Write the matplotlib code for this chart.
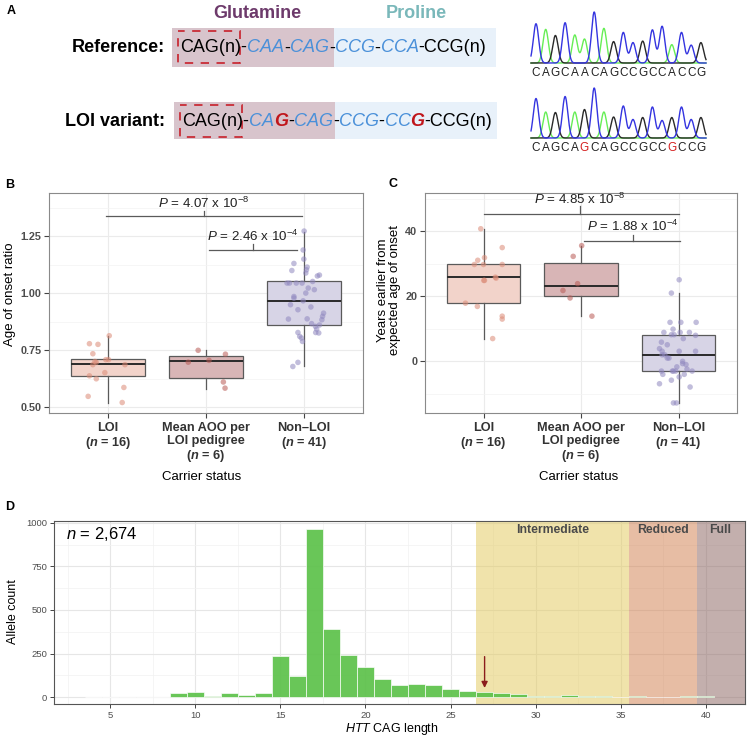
import numpy as np
import matplotlib
matplotlib.use("Agg")
import matplotlib.pyplot as plt
from matplotlib.patches import Rectangle

plt.rcParams['font.family'] = ['Liberation Sans', 'DejaVu Sans']
plt.rcParams['mathtext.fontset'] = 'custom'
plt.rcParams['mathtext.rm'] = 'Liberation Sans'
plt.rcParams['mathtext.it'] = 'Liberation Sans:italic'
plt.rcParams['mathtext.bf'] = 'Liberation Sans:bold'
plt.rcParams['mathtext.bfit'] = 'Liberation Sans:bold:italic'

# ---------------- data ----------------
# Panel A
ref_seq = "CAGCAACAGCCGCCACCG"
loi_seq = "CAGCAGCAGCCGCCGCCG"
ref_peaks = [0.77, 0.66, 0.54, 0.79, 0.55, 0.47, 1.0, 0.68, 0.42, 0.60, 0.40, 0.43,
             0.65, 0.72, 0.36, 0.60, 0.35, 0.40]
loi_peaks = [0.79, 0.52, 0.51, 0.83, 0.52, 0.57, 1.0, 0.52, 0.42, 0.64, 0.37, 0.41,
             0.62, 0.35, 0.41, 0.62, 0.37, 0.41]
loi_red_positions = [5, 14]
ref_segments = [("CAG(n)-", "k"), ("CAA", "b"), ("-", "k"), ("CAG", "b"), ("-", "k"),
                ("CCG", "b"), ("-", "k"), ("CCA", "b"), ("-CCG(n)", "k")]
loi_segments = [("CAG(n)-", "k"), ("CA", "b"), ("G", "r"), ("-", "k"), ("CAG", "b"),
                ("-", "k"), ("CCG", "b"), ("-", "k"), ("CC", "b"), ("G", "r"),
                ("-CCG(n)", "k")]

# Panels B / C
categories = ["LOI\n($\\mathbfit{n}$ = 16)",
              "Mean AOO per\nLOI pedigree\n($\\mathbfit{n}$ = 6)",
              "Non\u2013LOI\n($\\mathbfit{n}$ = 41)"]
# box stats: whislo, q1, median, q3, whishi
b_box = [[0.52, 0.635, 0.69, 0.712, 0.81],
         [0.58, 0.628, 0.70, 0.722, 0.749],
         [0.68, 0.86, 0.965, 1.053, 1.27]]
c_box = [[6.9, 17.8, 25.8, 30.0, 40.7],
         [13.8, 20.0, 23.0, 30.2, 35.5],
         [-12.9, -3.0, 2.0, 8.0, 20.9]]

b_loi_jit = [0.014, -0.188, -0.101, -0.153, -0.132, -0.118, -0.153, -0.021, 0.007, 0.174,
             -0.031, -0.188, -0.118, 0.163, -0.201, 0.146]
b_loi_y = [0.813, 0.778, 0.775, 0.734, 0.700, 0.696, 0.686, 0.708, 0.708, 0.686,
           0.651, 0.637, 0.624, 0.586, 0.547, 0.520]
b_mean_jit = [-0.181, 0.031, -0.080, 0.198, 0.177, 0.194]
b_mean_y = [0.697, 0.705, 0.749, 0.732, 0.610, 0.583]
b_non_jit = [0, -0.010, -0.104, -0.125, 0.031, 0.024, 0.017, 0.156, 0.135, -0.174, -0.149,
             -0.080, -0.021, 0.087, 0.042, 0.104, 0.017, -0.104, -0.104, -0.010, -0.139,
             0.069, -0.063, 0.198, 0.188, 0.031, -0.160, 0.181, 0.076, 0.156, 0.115, 0.128,
             0.149, 0.118, -0.063, -0.045, -0.017, -0.028, -0.063, -0.115, -0.003]
b_non_y = [1.272, 1.189, 1.130, 1.099, 1.114, 1.102, 1.088, 1.079, 1.075, 1.044, 1.044,
           1.044, 1.044, 1.051, 1.022, 1.015, 1.000, 0.985, 0.978, 0.966, 0.949, 0.939,
           0.927, 0.912, 0.898, 0.887, 0.886, 0.883, 0.866, 0.860, 0.854, 0.842, 0.825,
           0.827, 0.827, 0.810, 0.788, 0.803, 0.696, 0.678, 1.149]

c_loi_jit = [-0.028, 0.010, -0.059, -0.094, 0, 0.192, 0.192, 0.010, 0.122, 0.129, -0.185,
             -0.063, 0.192, 0.192, 0.094, 0.003]
c_loi_y = [40.7, 31.8, 31.0, 29.7, 29.7, 34.9, 29.7, 24.8, 25.8, 25.5, 17.8, 16.8, 13.8,
           12.9, 6.9, 24.8]
c_mean_jit = [0.007, -0.080, -0.035, -0.185, -0.112, 0.112]
c_mean_y = [35.5, 32.2, 23.8, 21.7, 19.4, 13.8]
c_non_jit = [0.007, -0.073, -0.087, 0.024, 0.181, -0.056, -0.150, -0.073, 0.017, 0.112,
             0.175, 0.049, -0.175, -0.115, -0.195, -0.168, 0.007, 0.175, -0.168, -0.115,
             -0.098, 0.042, 0.042, 0.077, -0.017, -0.175, -0.063, -0.028, 0.140, 0.059,
             0.007, -0.161, -0.073, -0.195, 0.119, -0.052, -0.021, -0.052, 0.087, -0.140,
             -0.045]
c_non_y = [25.0, 20.9, 11.9, 11.9, 11.9, 9.8, 8.8, 8.1, 8.8, 8.8, 7.9, 6.9, 5.8, 5.0, 3.8,
           3.0, 3.0, 3.0, 1.9, 0.9, 0.9, -0.1, -0.8, -1.1, -1.8, -3.1, -3.1, -3.1, -3.1,
           -4.1, -4.9, -4.1, -5.9, -7.0, -8.0, -12.9, -12.9, -3.1, -2.5, 1.9, 8.1]

b_pvals = [r"$\it{P}$ = 4.07 x $10^{-8}$", r"$\it{P}$ = 2.46 x $10^{-4}$"]
c_pvals = [r"$\it{P}$ = 4.85 x $10^{-8}$", r"$\it{P}$ = 1.88 x $10^{-4}$"]

# Panel D
cag_length = list(range(4, 41))
allele_count = [2, 2, 0, 2, 0, 23, 31, 6, 23, 11, 25, 238, 119, 967, 393, 241, 170, 103,
                71, 75, 71, 44, 33, 29, 25, 15, 4, 8, 10, 4, 4, 0, 4, 0, 0, 4, 4]
region_names = ["Intermediate", "Reduced", "Full"]
region_start = [26.5, 35.5, 39.5]
region_end = [35.5, 39.5, 42.3]
region_label_x = [31.0, 37.5, 40.85]
region_colors = ["#e3c959", "#d17d4b", "#89615d"]
arrow_x = 27

# ---------------- figure ----------------
W, H = 748, 739
fig = plt.figure(figsize=(W / 100, H / 100), dpi=100)
ax0 = fig.add_axes([0, 0, 1, 1])
ax0.set_xlim(0, W)
ax0.set_ylim(H, 0)
ax0.axis('off')

def fax(l, t, r, b):
    return fig.add_axes([l / W, 1 - b / H, (r - l) / W, (b - t) / H])

# ---- panel letters ----
for lab, x, y in [("A", 11, 11), ("B", 10, 185), ("C", 393, 184), ("D", 10, 507)]:
    ax0.text(x, y, lab, fontsize=9, fontweight='bold', ha='center', va='center')

# ---- Panel A ----
ax0.text(257, 14, "Glutamine", fontsize=13, fontweight='bold', color="#6d3a6b",
         ha='center', va='center')
ax0.text(416, 14, "Proline", fontsize=13, fontweight='bold', color="#7ab8ba",
         ha='center', va='center')
seg_col = {"k": "black", "b": "#4a90d9", "r": "#c0151b"}

def draw_row(ycen, label, segs, box_y0, box_y1, x_purple0, x_mid, x_blue1, brk):
    ax0.add_patch(Rectangle((x_purple0, box_y0), x_mid - x_purple0, box_y1 - box_y0,
                            facecolor="#d8c4cc", edgecolor='none'))
    ax0.add_patch(Rectangle((x_mid, box_y0), x_blue1 - x_mid, box_y1 - box_y0,
                            facecolor="#e8f1fa", edgecolor='none'))
    ax0.add_patch(Rectangle((brk[0], brk[1]), brk[2] - brk[0], brk[3] - brk[1],
                            facecolor='none', edgecolor="#c8202a", lw=1.2,
                            linestyle=(1, (5, 4.5))))
    ax0.text(165, ycen, label, fontsize=13, fontweight='bold', ha='right', va='center')
    prev = None
    for s, c in segs:
        style = 'normal' if c == 'k' else 'italic'
        weight = 'bold' if c == 'r' else 'normal'
        if prev is None:
            prev = ax0.text(x_purple0 + 8, ycen, s, fontsize=13, color=seg_col[c],
                            style=style, fontweight=weight, ha='left', va='center')
        else:
            prev = ax0.annotate(s, xy=(1, 0), xycoords=prev, fontsize=13, color=seg_col[c],
                                style=style, fontweight=weight, ha='left', va='bottom')

draw_row(48, "Reference:", ref_segments, 28, 67, 172, 334, 496, (178, 31, 240, 63))
draw_row(121, "LOI variant:", loi_segments, 102, 139, 174, 335, 497, (180, 105, 242, 137))

chan_color = {"C": "#3434e0", "A": "#66ee55", "G": "#2a2a2a"}

def chromatogram(seq, peaks, base_y, amp, text_y, red_pos):
    xs = 536 + 9.7 * np.arange(len(seq))
    xx = np.linspace(531, 706, 600)
    for ch in ["A", "G", "C"]:
        yy = np.zeros_like(xx)
        for xi, b, h in zip(xs, seq, peaks):
            if b == ch:
                yy += h * np.exp(-0.5 * ((xx - xi) / 2.7) ** 2)
        ax0.plot(xx, base_y - amp * yy, color=chan_color[ch], lw=1.0)
    for i, (xi, b) in enumerate(zip(xs, seq)):
        ax0.text(xi, text_y, b, fontsize=8.5, ha='center', va='center',
                 color="#d42020" if i in red_pos else "#222222")

chromatogram(ref_seq, ref_peaks, 63, 51, 73, [])
chromatogram(loi_seq, loi_peaks, 138, 50, 148, loi_red_positions)

# ---- Panels B and C ----
box_fill = ["#f2d3ca", "#d8b5b6", "#d7d4e6"]
pt_col = ["#db8a76", "#b85a55", "#8f87bf"]

def style_box_axes(ax, ylim, yticks, yminor, ytlabels):
    ax.set_xlim(0.4, 3.6)
    ax.set_ylim(*ylim)
    ax.set_yticks(yticks)
    ax.set_yticklabels(ytlabels)
    ax.set_yticks(yminor, minor=True)
    ax.set_xticks([1, 2, 3])
    ax.set_xticklabels(categories, fontsize=9.2, fontweight='bold', color="#333333",
                       linespacing=1.1)
    ax.tick_params(axis='y', labelsize=7.8, labelcolor="#4d4d4d", length=3.5,
                   color="#444444", width=0.8, pad=2)
    for t in ax.get_yticklabels():
        t.set_fontweight('bold')
    ax.tick_params(axis='x', length=3.5, color="#444444", width=0.8, pad=3)
    ax.tick_params(which='minor', length=0)
    ax.grid(True, which='major', color="#ebebeb", lw=0.8, zorder=0)
    ax.grid(True, which='minor', axis='y', color="#f3f3f3", lw=0.5, zorder=0)
    ax.set_axisbelow(True)
    for sp in ax.spines.values():
        sp.set_color("#8a8a8a")
        sp.set_linewidth(0.8)

def draw_boxes(ax, stats, jits, ys):
    for i, st in enumerate(stats):
        d = dict(whislo=st[0], q1=st[1], med=st[2], q3=st[3], whishi=st[4], fliers=[])
        ax.bxp([d], positions=[i + 1], widths=0.75, patch_artist=True, showcaps=False,
               manage_ticks=False,
               boxprops=dict(facecolor=box_fill[i], edgecolor="#5a5a5a", lw=0.9),
               whiskerprops=dict(color="#5a5a5a", lw=0.9),
               medianprops=dict(color="#2a2a2a", lw=1.4), zorder=2)
        ax.scatter(np.array(jits[i]) + i + 1, ys[i], s=16, color=pt_col[i], alpha=0.55,
                   edgecolors='none', zorder=3)

def bracket(ax, x0, x1, y, xt, ytop, txt, ty):
    ax.plot([x0, x1], [y, y], color="#5a5a5a", lw=0.9, zorder=4)
    ax.plot([xt, xt], [y, ytop], color="#5a5a5a", lw=0.9, zorder=4)
    ax.text(xt, ty, txt, fontsize=9.6, ha='center', va='center', color="#222222")

axB = fax(49, 193, 363, 413)
draw_boxes(axB, b_box, [b_loi_jit, b_mean_jit, b_non_jit], [b_loi_y, b_mean_y, b_non_y])
style_box_axes(axB, (0.474, 1.439), [0.5, 0.75, 1.0, 1.25], [0.625, 0.875, 1.125, 1.375],
               ["0.50", "0.75", "1.00", "1.25"])
bracket(axB, 0.98, 2.98, 1.339, 1.98, 1.358, b_pvals[0], 1.395)
bracket(axB, 2.03, 2.93, 1.19, 2.48, 1.216, b_pvals[1], 1.25)

axC = fax(425, 193, 737, 413)
draw_boxes(axC, c_box, [c_loi_jit, c_mean_jit, c_non_jit], [c_loi_y, c_mean_y, c_non_y])
style_box_axes(axC, (-16, 51.7), [0, 20, 40], [-10, 10, 30, 50], ["0", "20", "40"])
bracket(axC, 1.0, 3.0, 45.3, 1.99, 47.6, c_pvals[0], 49.6)
bracket(axC, 2.03, 3.02, 36.9, 2.53, 38.9, c_pvals[1], 41.3)

ax0.text(10, 294, "Age of onset ratio", fontsize=9.5, rotation=90, ha='center', va='center')
ax0.text(389, 290, "Years earlier from\nexpected age of onset", fontsize=9.5, rotation=90,
         ha='center', va='center', linespacing=0.9)
ax0.text(202, 477, "Carrier status", fontsize=9.5, ha='center', va='center')
ax0.text(579, 477, "Carrier status", fontsize=9.5, ha='center', va='center')

# ---- Panel D ----
axD = fax(54, 521, 745, 704)
axD.set_xlim(1.7, 42.3)
axD.set_ylim(-40, 1011)
axD.set_xticks([5, 10, 15, 20, 25, 30, 35, 40])
axD.set_xticks(np.arange(2.5, 42.5, 5), minor=True)
axD.set_yticks([0, 250, 500, 750, 1000])
axD.set_yticks([125, 375, 625, 875], minor=True)
axD.grid(True, which='major', color="#e6e6e6", lw=0.8, zorder=0)
axD.grid(True, which='minor', color="#f2f2f2", lw=0.5, zorder=0)
axD.set_axisbelow(True)
axD.tick_params(labelsize=6.8, labelcolor="#4d4d4d", length=3, color="#444444", width=0.7,
                pad=2)
axD.tick_params(which='minor', length=0)
for sp in axD.spines.values():
    sp.set_color("#555555")
    sp.set_linewidth(0.8)
for s, e, c in zip(region_start, region_end, region_colors):
    axD.axvspan(s, e, color=c, alpha=0.5, lw=0, zorder=1)
axD.bar(cag_length, allele_count, width=1.0, color="#5cc14a", alpha=0.92,
        edgecolor='white', linewidth=0.5, zorder=2)
for name, lx in zip(region_names, region_label_x):
    axD.text(lx, 960, name, fontsize=8.8, fontweight='bold', color="#4a4a4a",
             ha='center', va='center', zorder=5)
axD.annotate("", xy=(arrow_x, 52), xytext=(arrow_x, 232),
             arrowprops=dict(arrowstyle='-|>', color="#8b1c1c", lw=1.0,
                             mutation_scale=9, shrinkA=0, shrinkB=0), zorder=5)
axD.text(2.4, 935, r"$\it{n}$ = 2,674", fontsize=12, ha='left', va='center', zorder=5)
ax0.text(13, 612, "Allele count", fontsize=9, rotation=90, ha='center', va='center')
ax0.text(392, 729, r"$\it{HTT}$ CAG length", fontsize=9, ha='center', va='center')

fig.savefig("out.png", dpi=100)
